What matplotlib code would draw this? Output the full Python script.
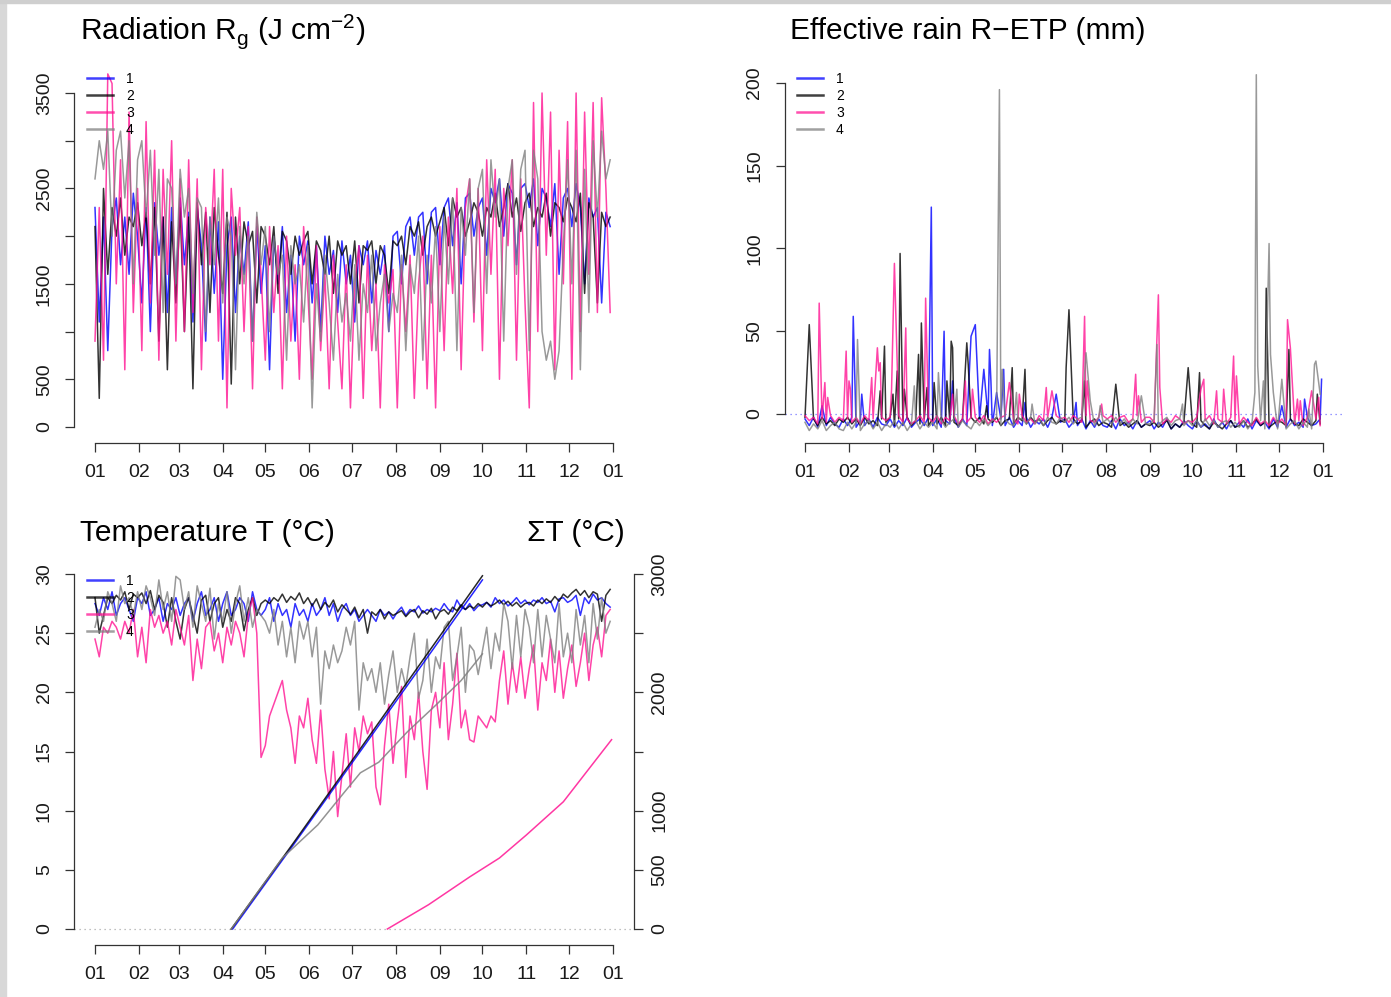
import numpy as np
import matplotlib
matplotlib.use("Agg")
import matplotlib.pyplot as plt
from matplotlib.patches import Rectangle
from matplotlib.lines import Line2D

plt.rcParams['font.family'] = ['Liberation Sans', 'DejaVu Sans']
plt.rcParams['mathtext.fontset'] = 'custom'
plt.rcParams['mathtext.rm'] = 'Liberation Sans'

# ---------------- data ----------------
month_start_days = [0, 31, 59, 90, 120, 151, 181, 212, 243, 273, 304, 334, 365]
month_labels = ["01", "02", "03", "04", "05", "06", "07", "08", "09", "10", "11", "12", "01"]
series_names = ["1", "2", "3", "4"]
series_colors = ["#0000FF", "#000000", "#FF1493", "#808080"]

# sample days (every 3rd day of the year)
days = np.arange(0, 364, 3)

rad_1 = [2300, 1100, 2200, 800, 2100, 2400, 1700, 2200, 1600, 2450, 2000,
         1300, 2300, 1000, 2350, 1800, 2200, 1200, 2300, 1500,
         2400, 1700, 2250, 1100, 2300, 1900, 900, 2200, 1400, 2150,
         500, 1900, 2200, 1200, 2000, 1600, 2150, 900, 2100, 1400,
         1900, 600, 2000, 1500, 2100, 1200, 1800, 900, 2000, 1700, 1950,
         1300, 1900, 1000, 2000, 1600, 1850, 1200, 1950, 1500, 1800,
         1100, 1900, 1700, 1950, 1300, 1850, 1600, 1900, 1000, 2000,
         2050, 1500, 2100, 2200, 1800, 2200, 2250, 1500, 2250, 2300,
         1700, 2300, 2400, 1900, 2350, 1500, 2400, 2450, 2000, 2300,
         2400, 1800, 2500, 2350, 2600, 2000, 2550, 2450, 1700, 2500, 2550,
         2300, 2600, 1900, 2500, 2400, 2100, 2550, 1600, 2400, 2500,
         2100, 2550, 2300, 1500, 2400, 2200, 2300, 1300, 2250, 2100]
rad_2 = [2100, 300, 2500, 1600, 2300, 2000, 2400, 1800, 2200, 2100, 2350,
         1900, 2250, 1500, 2300, 900, 2200, 600, 2150, 1300,
         2300, 1000, 2200, 400, 2350, 1700, 2250, 1200, 2300, 1800,
         1400, 2250, 450, 2200, 1500, 2150, 1900, 2050, 1300, 2100,
         2000, 1700, 2100, 1400, 2050, 1950, 1600, 2000, 1800, 1950, 2050,
         1500, 1950, 1850, 1600, 2000, 1400, 1950, 1800, 1900, 1500,
         1950, 1300, 1900, 1850, 1950, 1500, 1900, 1800, 1400, 1950,
         1900, 2000, 1700, 2100, 2000, 2150, 1800, 2100, 2200, 2000,
         2150, 2300, 1900, 2400, 2200, 2300, 2000, 2150, 2350, 2250,
         2000, 2300, 2200, 2450, 2100, 2300, 2550, 2200, 2400, 2050, 2350,
         2450, 2100, 2300, 2200, 2450, 2000, 2350, 2300, 2150, 2400,
         2300, 2150, 2450, 1400, 2350, 2200, 1300, 2250, 2100, 2200]
rad_3 = [900, 2300, 700, 3700, 3600, 1500, 2800, 600, 3300, 1200, 2500,
         800, 3200, 1300, 2900, 700, 2700, 1600, 3000, 900,
         2600, 1000, 2800, 1200, 2600, 600, 2300, 1700, 2700, 900,
         2700, 200, 2500, 1800, 2300, 1000, 2100, 400, 2200, 1600,
         700, 2100, 1200, 1900, 400, 2000, 900, 1700, 500, 2100, 1400,
         500, 1900, 800, 1600, 400, 1800, 1100, 400, 1700, 200,
         1500, 1900, 300, 1800, 800, 1500, 200, 1700, 1300, 1650,
         200, 1700, 1000, 1800, 300, 1500, 2000, 400, 1800, 200,
         2100, 800, 2200, 1400, 2500, 600, 2300, 2600, 1100, 2500,
         800, 2800, 1600, 2700, 500, 2500, 1900, 2800, 700, 2600, 1300,
         200, 3400, 1000, 3500, 1800, 3300, 600, 2900, 1500, 3200,
         500, 3500, 1000, 3300, 1600, 3400, 1200, 3450, 2500, 1200]
rad_4 = [2600, 3000, 2700, 3100, 2000, 2900, 3100, 2400, 3000, 1500, 2800,
         3000, 2200, 2900, 1800, 2700, 1200, 2600, 2500, 1500,
         2700, 2200, 2500, 1400, 2400, 2300, 1000, 2200, 1700, 2400,
         1300, 2200, 2000, 600, 2100, 1500, 2000, 900, 2250, 1700,
         2100, 1000, 2000, 1600, 1800, 700, 1900, 1500, 1700, 1100, 1900,
         200, 1500, 900, 1800, 1300, 700, 1600, 1100, 1400, 900,
         1700, 700, 1500, 1200, 1800, 800, 1300, 1600, 1000, 1400,
         1200, 1800, 800, 1700, 1400, 2000, 700, 1800, 1300, 2100,
         1000, 2200, 1500, 2400, 800, 2300, 1800, 2600, 1200, 2500,
         2700, 1400, 2800, 2200, 2600, 900, 2500, 2800, 1600, 2700, 2900,
         800, 2900, 2600, 1000, 700, 900, 500, 800, 1900, 2800,
         1500, 2900, 600, 2700, 1200, 3000, 2200, 3100, 2600, 2800]

# effective rain: R-ETP on dry days (every 3rd day) + rain events
rain_base_1 = [-3, -7, -2, -8, -4, -7, -2, -6, -8, -3, -7,
               -2, -8, -4, -7, -3, -8, -2, -6, -7,
               -3, -8, -4, -7, -2, -8, -5, -3, -7, -2,
               -7, -3, -8, -4, -6, -2, -8, -3, -7, -4,
               -8, -3, -6, -2, -7, -9, -3, -7, -2, -8, -4,
               -7, -2, -8, -4, -6, -3, -8, -2, -7, -5,
               -3, -8, -5, -7, -3, -9, -4, -8, -3, -7,
               -8, -4, -9, -3, -7, -5, -9, -4, -8, -6,
               -4, -9, -5, -8, -3, -9, -6, -8, -4, -7,
               -9, -4, -8, -6, -9, -3, -8, -5, -9, -4, -8,
               -5, -8, -3, -9, -4, -7, -5, -9, -3, -8,
               -4, -8, -3, -7, -5, -8, -2, -7, -6, -3]
rain_base_2 = [-2, -6, -3, -7, -2, -6, -4, -7, -3, -5, -2,
               -6, -3, -7, -2, -6, -4, -7, -3, -5,
               -2, -7, -3, -6, -2, -7, -4, -6, -3, -7,
               -3, -6, -2, -7, -4, -5, -7, -3, -6, -2,
               -5, -2, -6, -3, -5, -2, -7, -4, -3, -6, -2,
               -4, -6, -2, -5, -3, -7, -4, -2, -6, -4,
               -5, -7, -3, -6, -4, -8, -5, -3, -7, -5,
               -6, -8, -4, -7, -5, -8, -6, -4, -8, -6,
               -7, -5, -8, -6, -4, -9, -6, -8, -5, -7,
               -6, -8, -4, -7, -9, -5, -7, -9, -6, -4, -8,
               -7, -4, -8, -6, -3, -7, -5, -8, -6, -4,
               -5, -7, -3, -6, -7, -3, -5, -7, -4, -6]
rain_base_3 = [-1, -4, -2, -6, -3, -5, -1, -5, -2, -4, -3,
               -5, -2, -6, -1, -4, -3, -6, -2, -4,
               -2, -6, -1, -5, -3, -6, -4, -1, -5, -2,
               -5, -1, -6, -2, -4, -1, -6, -3, -5, -2,
               -2, -5, -1, -6, -3, -5, -2, -1, -5, -3, -6,
               -1, -5, -3, -6, -1, -4, -2, -5, -1, -3,
               -2, -5, -1, -3, -5, -1, -4, -5, -2, -1,
               -3, -1, -5, -2, -1, -5, -3, -1, -5, -2,
               -2, -5, -1, -6, -3, -5, -1, -3, -6, -4,
               -5, -2, -6, -4, -1, -6, -3, -5, -6, -2, -4,
               -6, -2, -5, -7, -2, -6, -4, -7, -2, -6,
               -3, -7, -2, -6, -4, -7, -2, -6, -3, -7]
rain_base_4 = [-5, -10, -6, -9, -4, -10, -7, -5, -9, -10, -5,
               -9, -5, -10, -6, -4, -9, -5, -10, -6,
               -8, -4, -9, -5, -10, -6, -4, -9, -5, -8,
               -5, -9, -4, -8, -5, -3, -8, -4, -7, -9,
               -4, -7, -3, -7, -4, -2, -7, -3, -6, -7, -3,
               -3, -6, -2, -6, -3, -7, -2, -5, -6, -2,
               -5, -2, -6, -3, -2, -6, -3, -7, -2, -5,
               -3, -6, -2, -6, -3, -7, -3, -6, -2, -6,
               -6, -3, -7, -4, -2, -7, -4, -3, -7, -4,
               -7, -4, -8, -3, -7, -4, -8, -5, -4, -8, -5,
               -8, -4, -9, -5, -8, -4, -9, -5, -8, -9,
               -5, -9, -6, -4, -9, -5, -8, -9, -4, -8]
rain_events_1 = {12: 5, 34: 59, 40: 12, 89: 125, 98: 50, 104: 20, 117: 47, 120: 54,
                 126: 27, 130: 39, 131: 20, 135: 13, 140: 27, 155: 7, 177: 12,
                 191: 7, 336: 5, 352: 9, 364: 21}
rain_events_2 = {3: 54, 53: 14, 56: 41, 62: 12, 65: 26, 67: 97, 70: 15, 80: 36,
                 82: 55, 86: 16, 91: 19, 100: 20, 103: 44, 104: 40, 114: 43, 115: 30,
                 128: 5, 146: 28, 155: 27, 184: 28, 186: 63, 197: 20, 219: 18,
                 270: 28, 278: 25, 325: 76, 341: 39, 361: 12}
rain_events_3 = {10: 67, 14: 19, 16: 10, 29: 38, 31: 20, 32: 15, 47: 22, 51: 40,
                 52: 26, 53: 31, 61: 15, 63: 91, 71: 52, 85: 70, 104: 12, 113: 20,
                 118: 15, 144: 19, 151: 12, 170: 16, 174: 14, 197: 59, 199: 20,
                 209: 6, 233: 24, 235: 11, 249: 72, 250: 16, 279: 15, 281: 21,
                 290: 14, 295: 15, 302: 35, 304: 23, 340: 57, 342: 40, 347: 9,
                 349: 8, 357: 14, 362: 10}
rain_events_4 = {37: 45, 77: 17, 94: 25, 107: 15, 137: 196, 139: 27, 149: 13,
                 160: 6, 198: 37, 201: 8, 208: 5, 237: 11, 248: 42, 266: 6,
                 317: 13, 318: 205, 319: 29, 323: 20, 327: 103, 328: 36, 330: 13,
                 336: 21, 355: 3, 359: 30, 360: 32, 363: 12}

temp_1 = [27.5, 26.5, 28.0, 27.0, 28.5, 26.5, 27.5, 28.0, 27.0, 26.0, 28.0,
          27.5, 28.5, 26.5, 27.0, 28.0, 26.0, 27.5, 27.0, 28.0,
          26.5, 27.5, 28.0, 26.0, 27.5, 28.5, 26.5, 27.0, 28.0, 26.0,
          27.5, 28.5, 26.5, 27.0, 28.0, 27.5, 26.0, 28.5, 27.0, 26.5,
          27.0, 28.0, 26.0, 27.5, 26.5, 27.0, 25.5, 27.5, 26.5, 27.0, 26.0,
          27.5, 26.5, 27.0, 28.0, 26.5, 27.5, 26.0, 27.0, 27.5, 26.5,
          27.0, 26.0, 26.5, 27.0, 26.5, 26.0, 27.0, 26.5, 26.8, 26.2,
          26.8, 27.2, 26.5, 27.0, 26.8, 27.3, 26.7, 27.0, 26.8, 27.1,
          26.9, 27.5, 27.0, 26.8, 27.8, 27.2, 27.0, 27.5, 26.9, 27.3,
          27.4, 27.6, 27.2, 28.0, 27.5, 27.8, 27.3, 27.6, 28.0, 27.5, 27.8,
          27.4, 27.8, 27.6, 28.0, 27.5, 27.7, 26.8, 27.9, 28.0, 27.6,
          27.8, 28.2, 26.5, 28.0, 27.5, 28.3, 27.8, 28.0, 27.5, 27.2]
temp_2 = [28.0, 25.0, 26.5, 28.0, 27.5, 28.2, 27.8, 28.5, 27.0, 28.3, 28.0,
          28.4, 27.5, 28.6, 27.0, 28.2, 27.6, 25.5, 28.0, 26.0,
          24.5, 27.0, 28.0, 26.5, 25.0, 27.8, 28.2, 26.0, 27.5, 28.0,
          25.5, 27.0, 26.0, 28.0, 27.5, 25.2, 27.0, 28.0, 26.5, 27.5,
          27.8, 27.5, 28.0, 27.7, 28.3, 27.6, 28.1, 27.8, 28.4, 27.5, 28.0,
          27.3, 27.9, 27.0, 27.6, 27.2, 27.8, 26.8, 27.4, 27.0, 26.6,
          27.2, 26.3, 27.0, 25.0, 26.8, 26.5, 27.0, 26.2, 26.8, 26.5,
          26.7, 26.9, 26.4, 26.8, 27.0, 26.3, 26.9, 26.6, 27.1, 26.2,
          26.8, 27.0, 26.6, 27.2, 26.9, 27.4, 27.0, 27.3, 27.1, 27.5,
          27.2, 27.6, 27.3, 27.5, 27.8, 27.4, 27.7, 27.3, 27.6, 27.2, 27.5,
          27.6, 27.3, 27.8, 27.5, 27.9, 27.6, 28.1, 27.7, 28.3, 28.0,
          28.4, 28.7, 28.2, 28.6, 28.0, 28.5, 28.3, 26.0, 28.2, 28.7]
temp_3 = [24.5, 23.0, 25.5, 25.0, 26.0, 25.5, 24.5, 26.0, 25.0, 27.0, 23.0,
          25.5, 22.5, 27.0, 25.5, 26.5, 25.0, 26.0, 24.0, 27.0,
          25.5, 24.0, 26.5, 21.0, 24.5, 22.0, 25.5, 26.0, 23.5, 25.0,
          22.5, 25.5, 24.0, 26.0, 25.0, 23.0, 26.5, 28.0, 25.0, 14.5,
          15.5, 18.0, 19.0, 20.0, 21.0, 18.5, 17.0, 14.0, 18.0, 17.0, 19.5,
          16.0, 14.0, 18.5, 13.5, 11.0, 15.0, 9.5, 13.0, 16.5, 12.0,
          17.0, 15.0, 18.0, 16.5, 17.5, 12.0, 10.5, 15.5, 19.0, 14.0,
          17.5, 20.5, 12.8, 18.0, 16.0, 20.0, 15.0, 11.8, 18.5, 20.0,
          17.0, 22.5, 16.0, 19.0, 23.3, 17.0, 18.5, 16.0, 15.8, 18.0,
          17.5, 17.0, 18.0, 17.5, 21.0, 23.5, 19.0, 22.5, 20.0, 23.0, 19.5,
          22.0, 24.0, 18.5, 22.5, 21.0, 24.5, 20.0, 23.5, 19.5, 22.0,
          24.0, 20.5, 22.5, 25.0, 21.0, 24.0, 25.5, 23.0, 26.5, 27.0]
temp_4 = [25.5, 27.0, 26.0, 28.5, 27.5, 26.0, 29.0, 27.5, 28.0, 26.5, 28.5,
          27.0, 29.0, 28.0, 26.5, 29.5, 27.0, 28.5, 26.0, 29.8,
          29.5, 27.0, 28.5, 25.5, 29.0, 27.5, 26.0, 28.8, 24.5, 27.5,
          26.0, 28.5, 25.0, 27.5, 29.0, 26.0, 28.0, 25.5, 27.0, 26.5,
          26.0, 25.0, 27.0, 24.0, 26.0, 23.0, 25.5, 22.5, 26.0, 24.5, 26.0,
          23.0, 25.5, 19.0, 23.5, 22.0, 24.0, 22.5, 23.5, 25.5, 24.0,
          26.0, 18.5, 22.5, 21.0, 22.0, 20.0, 22.5, 19.0, 21.5, 23.5,
          20.0, 22.0, 20.5, 23.0, 25.0, 19.5, 21.0, 24.5, 20.0, 23.0,
          22.0, 25.5, 26.0, 21.0, 23.0, 25.5, 20.0, 24.0, 23.5, 21.5,
          23.5, 25.5, 22.0, 25.0, 23.5, 27.5, 26.0, 22.0, 26.5, 23.0, 27.0,
          25.5, 22.5, 27.0, 23.0, 26.5, 24.5, 22.5, 27.5, 23.0, 25.0,
          22.5, 27.0, 24.0, 26.5, 22.5, 27.5, 24.5, 28.0, 25.0, 26.0]

# cumulated temperature (sum of degree-days)
sumT_days_1 = [97, 140, 180, 230, 273]
sumT_vals_1 = [0, 715, 1385, 2225, 2950]
sumT_days_2 = [96, 140, 180, 230, 273]
sumT_vals_2 = [0, 730, 1405, 2255, 2985]
sumT_days_3 = [206, 235, 264, 285, 304, 330, 364]
sumT_vals_3 = [0, 205, 440, 600, 795, 1075, 1600]
sumT_days_4 = [96, 132, 157, 176, 187, 200, 220, 240, 258, 273]
sumT_vals_4 = [0, 600, 880, 1160, 1320, 1410, 1665, 1890, 2100, 2325]

for arr in [rad_1, rad_2, rad_3, rad_4, rain_base_1, rain_base_2, rain_base_3,
            rain_base_4, temp_1, temp_2, temp_3, temp_4]:
    assert len(arr) == len(days), len(arr)

# ---------------- layout ----------------
W, H = 1391, 997
fig = plt.figure(figsize=(W / 100, H / 100), dpi=100)

# screenshot frame
fig.patches.append(Rectangle((0, 0), 6 / W, 1, transform=fig.transFigure,
                             color='#d8d8d8', zorder=-10))
fig.patches.append(Rectangle((0, 1 - 3 / H), 1, 3 / H, transform=fig.transFigure,
                             color='#cfcfcf', zorder=-10))

PX_PER_DAY = 518 / 365.0


def px_axes(left, top, right, bottom):
    return fig.add_axes([left / W, 1 - bottom / H, (right - left) / W, (bottom - top) / H])


def day_lim(x0px, left_px, right_px):
    return ((left_px - x0px) / PX_PER_DAY, 365 + (right_px - (x0px + 518)) / PX_PER_DAY)


AX_COL = '#333333'
TICK_FS = 14


def style_axes(ax, ybounds, yticks, ylabels, ypad=9):
    for s in ['top', 'right']:
        ax.spines[s].set_visible(False)
    ax.spines['bottom'].set_bounds(0, 365)
    ax.spines['left'].set_bounds(*ybounds)
    for s in ['bottom', 'left']:
        ax.spines[s].set_color(AX_COL)
        ax.spines[s].set_linewidth(0.9)
    ax.set_xticks(month_start_days)
    ax.set_xticklabels(month_labels)
    ax.set_yticks(yticks)
    ax.set_yticklabels(ylabels)
    ax.tick_params(axis='both', direction='out', length=6.5, width=0.9, color=AX_COL,
                   labelsize=TICK_FS, labelcolor='#1a1a1a')
    ax.tick_params(axis='x', pad=8.5)
    ax.tick_params(axis='y', pad=ypad, labelrotation=90)
    for lab in ax.get_yticklabels():
        lab.set_va('center')


def add_legend(ax, x_px, y_top_px):
    handles = [Line2D([], [], color=c, lw=1.8, alpha=0.75) for c in series_colors]
    ax.legend(handles, series_names, loc='upper left',
              bbox_to_anchor=(x_px / W, 1 - y_top_px / H), bbox_transform=fig.transFigure,
              frameon=False, fontsize=10, handlelength=1.87, handletextpad=0.94,
              labelspacing=0.22, borderpad=0, borderaxespad=0)


LW = 1.1
ALPHA = 0.8

# ---- Panel 1: radiation ----
ax1 = px_axes(74.3, 60, 633.7, 443)
for vals, c in zip([rad_1, rad_2, rad_3, rad_4], series_colors):
    ax1.plot(days, vals, color=c, lw=LW, alpha=ALPHA)
ax1.set_xlim(*day_lim(95, 74.3, 633.7))
ax1.set_ylim(-(443 - 427) / 0.09543, (427 - 60) / 0.09543)
style_axes(ax1, (0, 3500), list(range(0, 3501, 500)),
           ['0', '500', '', '1500', '', '2500', '', '3500'])
add_legend(ax1, 87, 72)
fig.text(80 / W, 1 - 40 / H, r"Radiation R$_{\mathregular{g}}$ (J cm$^{\mathregular{-2}}$)",
         fontsize=21.5, va='baseline', ha='left')

# ---- Panel 2: effective rain ----
ax2 = px_axes(785, 60, 1344, 443)
ax2.axhline(0, color='#7777FF', lw=0.9, linestyle=(0, (1, 3)))
for base, events, c in zip([rain_base_1, rain_base_2, rain_base_3, rain_base_4],
                           [rain_events_1, rain_events_2, rain_events_3, rain_events_4],
                           series_colors):
    merged = dict(zip(days.tolist(), base))
    merged.update(events)
    dd = sorted(merged)
    ax2.plot(dd, [merged[d] for d in dd], color=c, lw=LW, alpha=ALPHA)
ax2.set_xlim(*day_lim(805, 785, 1344))
ax2.set_ylim(-(443 - 414) / 1.655, (414 - 60) / 1.655)
style_axes(ax2, (0, 200), [0, 50, 100, 150, 200], ['0', '50', '100', '150', '200'])
add_legend(ax2, 797, 72)
fig.text(790 / W, 1 - 39 / H, "Effective rain R\u2212ETP (mm)",
         fontsize=21.5, va='baseline', ha='left')

# ---- Panel 3: temperature ----
T_SCALE = 355 / 30.0
ax3 = px_axes(74.3, 560, 633.7, 945)
ax3.axhline(0, color='#aaaaaa', lw=0.9, linestyle=(0, (1, 3)))
for vals, c in zip([temp_1, temp_2, temp_3, temp_4], series_colors):
    ax3.plot(days, vals, color=c, lw=LW, alpha=ALPHA)
ax3.set_xlim(*day_lim(95, 74.3, 633.7))
ax3.set_ylim(-(945 - 929) / T_SCALE, (929 - 560) / T_SCALE)
style_axes(ax3, (0, 30), [0, 5, 10, 15, 20, 25, 30], ['0', '5', '10', '15', '20', '25', '30'])
add_legend(ax3, 87, 574)

ax3b = ax3.twinx()
for dd, vv, c in zip([sumT_days_1, sumT_days_2, sumT_days_3, sumT_days_4],
                     [sumT_vals_1, sumT_vals_2, sumT_vals_3, sumT_vals_4], series_colors):
    ax3b.plot(dd, vv, color=c, lw=1.1, alpha=0.85)
ax3b.set_xlim(ax3.get_xlim())
ax3b.set_ylim(-(945 - 929) / (T_SCALE / 100), (929 - 560) / (T_SCALE / 100))
for s in ['top', 'left', 'bottom']:
    ax3b.spines[s].set_visible(False)
ax3b.spines['right'].set_bounds(0, 3000)
ax3b.spines['right'].set_color(AX_COL)
ax3b.spines['right'].set_linewidth(0.9)
ax3b.set_yticks(list(range(0, 3001, 500)))
ax3b.set_yticklabels(['0', '500', '1000', '', '2000', '', '3000'])
ax3b.tick_params(axis='y', direction='out', length=6.5, width=0.9, color=AX_COL,
                 labelsize=TICK_FS, labelcolor='#1a1a1a', pad=6, labelrotation=90)
for lab in ax3b.get_yticklabels():
    lab.set_va('center')

fig.text(80 / W, 1 - 541 / H, "Temperature T (\u00b0C)", fontsize=21.5, va='baseline', ha='left')
fig.text(625 / W, 1 - 541 / H, "\u03a3T (\u00b0C)", fontsize=21.5, va='baseline', ha='right')

fig.savefig("out.png", dpi=100)
